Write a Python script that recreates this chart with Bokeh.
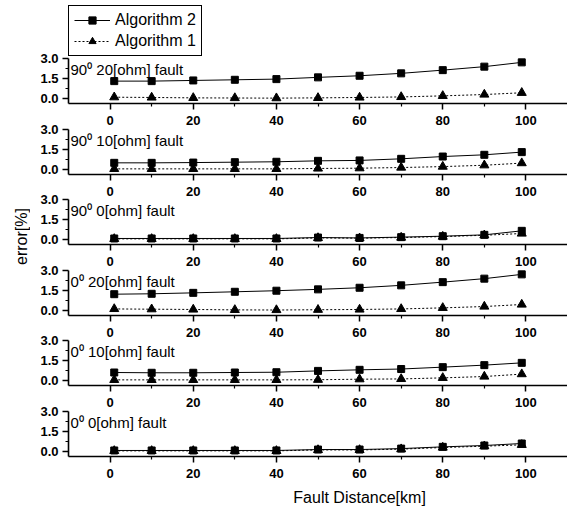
from math import pi
from bokeh.plotting import figure
from bokeh.layouts import column, row
from bokeh.models import (Range1d, FixedTicker, PrintfTickFormatter, Label,
                          Legend, LegendItem)
from bokeh.embed import file_html
from bokeh.resources import INLINE

# ---------------- data ----------------
distance_km = [1, 10, 20, 30, 40, 50, 60, 70, 80, 90, 99]
x_major_ticks = [0, 20, 40, 60, 80, 100]
x_minor_ticks = [10, 30, 50, 70, 90]
y_major_ticks = [0.0, 1.5, 3.0]
y_minor_ticks = [0.75, 2.25]

panel_titles = ["90\u2070 20[ohm] fault", "90\u2070 10[ohm] fault", "90\u2070 0[ohm] fault",
                "0\u2070 20[ohm] fault", "0\u2070 10[ohm] fault", "0\u2070 0[ohm] fault"]

alg2_90_20 = [1.30, 1.30, 1.35, 1.40, 1.45, 1.58, 1.70, 1.88, 2.12, 2.38, 2.70]
alg1_90_20 = [0.10, 0.08, 0.05, 0.04, 0.03, 0.05, 0.08, 0.12, 0.20, 0.30, 0.43]
alg2_90_10 = [0.50, 0.50, 0.52, 0.55, 0.58, 0.65, 0.68, 0.80, 0.97, 1.10, 1.30]
alg1_90_10 = [0.05, 0.05, 0.05, 0.05, 0.05, 0.08, 0.10, 0.15, 0.22, 0.32, 0.48]
alg2_90_0 = [0.08, 0.08, 0.08, 0.08, 0.08, 0.15, 0.12, 0.18, 0.25, 0.35, 0.65]
alg1_90_0 = [0.05, 0.05, 0.05, 0.05, 0.05, 0.12, 0.10, 0.15, 0.22, 0.32, 0.45]
alg2_0_20 = [1.22, 1.25, 1.32, 1.40, 1.48, 1.58, 1.70, 1.88, 2.12, 2.38, 2.70]
alg1_0_20 = [0.12, 0.10, 0.08, 0.05, 0.04, 0.06, 0.08, 0.12, 0.20, 0.30, 0.45]
alg2_0_10 = [0.60, 0.58, 0.58, 0.60, 0.62, 0.72, 0.80, 0.86, 1.00, 1.15, 1.32]
alg1_0_10 = [0.05, 0.05, 0.05, 0.05, 0.05, 0.06, 0.10, 0.12, 0.20, 0.30, 0.48]
alg2_0_0 = [0.08, 0.08, 0.08, 0.08, 0.08, 0.15, 0.15, 0.22, 0.35, 0.45, 0.60]
alg1_0_0 = [0.05, 0.05, 0.05, 0.05, 0.05, 0.12, 0.12, 0.18, 0.30, 0.40, 0.50]

alg2_series = [alg2_90_20, alg2_90_10, alg2_90_0, alg2_0_20, alg2_0_10, alg2_0_0]
alg1_series = [alg1_90_20, alg1_90_10, alg1_90_0, alg1_0_20, alg1_0_10, alg1_0_0]

x_label = "Fault Distance[km]"
x_label_pos = 60
y_label = "error[%]"

# ---------------- styling / layout ----------------
FONT = "Liberation Sans"
Y_LO = -0.37
Y_AXIS_TOP = 3.0
PX_PER_UNIT = 13.4
X_LO, X_HI = -10, 110
YLAB_W = 30
PANEL_W = 537
LEFT = 38
TOTAL_H = 519

# (canvas height, frame height, bottom border, top margin)
specs = [
    (128, 98, 30, 5),
    (82, 52, 30, -11),
    (82, 52, 30, -12),
    (82, 52, 30, -11),
    (82, 52, 30, -12),
    (82, 52, 30, -11),
]

figs = []
for i, (h, fh, bb, mt) in enumerate(specs):
    y_hi = Y_LO + fh / PX_PER_UNIT
    p = figure(width=PANEL_W, height=h, x_range=Range1d(X_LO, X_HI),
               y_range=Range1d(Y_LO, y_hi), output_backend="svg",
               toolbar_location=None, min_border_left=LEFT, min_border_right=0,
               min_border_top=0, min_border_bottom=bb, outline_line_color=None,
               background_fill_alpha=0, border_fill_alpha=0,
               margin=(mt, 0, 0, 0))
    p.grid.visible = False

    xa = p.xaxis[0]
    xa.ticker = FixedTicker(ticks=x_major_ticks, minor_ticks=x_minor_ticks)
    ya = p.yaxis[0]
    ya.ticker = FixedTicker(ticks=y_major_ticks, minor_ticks=y_minor_ticks)
    ya.formatter = PrintfTickFormatter(format="%.1f")
    ya.bounds = (Y_LO, Y_AXIS_TOP)
    for ax in (xa, ya):
        ax.axis_line_width = 1.6
        ax.axis_line_color = "black"
        ax.major_tick_line_width = 1.5
        ax.minor_tick_line_width = 1.2
        ax.major_tick_in = 0
        ax.major_tick_out = 6
        ax.minor_tick_in = 0
        ax.minor_tick_out = 3
        ax.major_label_text_font = FONT
        ax.major_label_text_font_size = "13px"
        ax.major_label_text_font_style = "bold"
        ax.major_label_text_color = "black"
    xa.major_label_standoff = 6
    ya.major_label_standoff = 4

    a2 = alg2_series[i]
    a1 = alg1_series[i]
    l2 = p.line(distance_km, a2, line_color="black", line_width=1)
    s2 = p.scatter(distance_km, a2, marker="square", size=7, color="black")
    l1 = p.line(distance_km, a1, line_color="black", line_width=1, line_dash="2 2")
    s1 = p.scatter(distance_km, a1, marker="triangle", size=9, color="black")

    p.add_layout(Label(x=2, y=34, x_units="screen", y_units="screen",
                       text=panel_titles[i], text_font=FONT,
                       text_font_size="15px", text_baseline="middle",
                       text_color="black"))

    if i == 0:
        legend = Legend(items=[LegendItem(label="Algorithm 2", renderers=[l2, s2]),
                               LegendItem(label="Algorithm 1", renderers=[l1, s1])],
                        location="top_left", margin=0, padding=5, spacing=3,
                        glyph_width=36, glyph_height=18, label_height=18,
                        label_standoff=5, border_line_color="black",
                        border_line_width=1, border_line_alpha=1,
                        background_fill_color="white",
                        background_fill_alpha=1, label_text_font=FONT,
                        label_text_font_size="16px", label_text_color="black")
        p.add_layout(legend)
    figs.append(p)

# x-axis title strip, sharing the panels' x scale
used_h = sum(s[0] + s[3] for s in specs)
xl_h = TOTAL_H - used_h
xl = figure(width=PANEL_W, height=xl_h, x_range=Range1d(X_LO, X_HI),
            y_range=Range1d(0, 1), output_backend="svg", toolbar_location=None,
            min_border_left=LEFT, min_border_right=0, min_border_top=0,
            min_border_bottom=0, outline_line_color=None,
            x_axis_location=None, y_axis_location=None,
            background_fill_alpha=0, border_fill_alpha=0)
xl.grid.visible = False
xl.add_layout(Label(x=x_label_pos, y=xl_h - 11, y_units="screen", text=x_label,
                    text_font=FONT, text_font_size="16px", text_align="center",
                    text_baseline="middle", text_color="black"))
figs.append(xl)

# y-axis title strip
yl = figure(width=YLAB_W, height=TOTAL_H, x_range=Range1d(0, 1),
            y_range=Range1d(0, 1), output_backend="svg", toolbar_location=None,
            min_border_left=0, min_border_right=0, min_border_top=0,
            min_border_bottom=0, outline_line_color=None,
            x_axis_location=None, y_axis_location=None,
            background_fill_alpha=0, border_fill_alpha=0)
yl.grid.visible = False
yl.add_layout(Label(x=21, y=TOTAL_H - 236, x_units="screen", y_units="screen",
                    text=y_label, angle=pi / 2, text_font=FONT,
                    text_font_size="16px", text_align="center",
                    text_baseline="middle", text_color="black"))

layout = row(yl, column(*figs, spacing=0), spacing=0)
open("out.html", "w").write(file_html(layout, INLINE))
